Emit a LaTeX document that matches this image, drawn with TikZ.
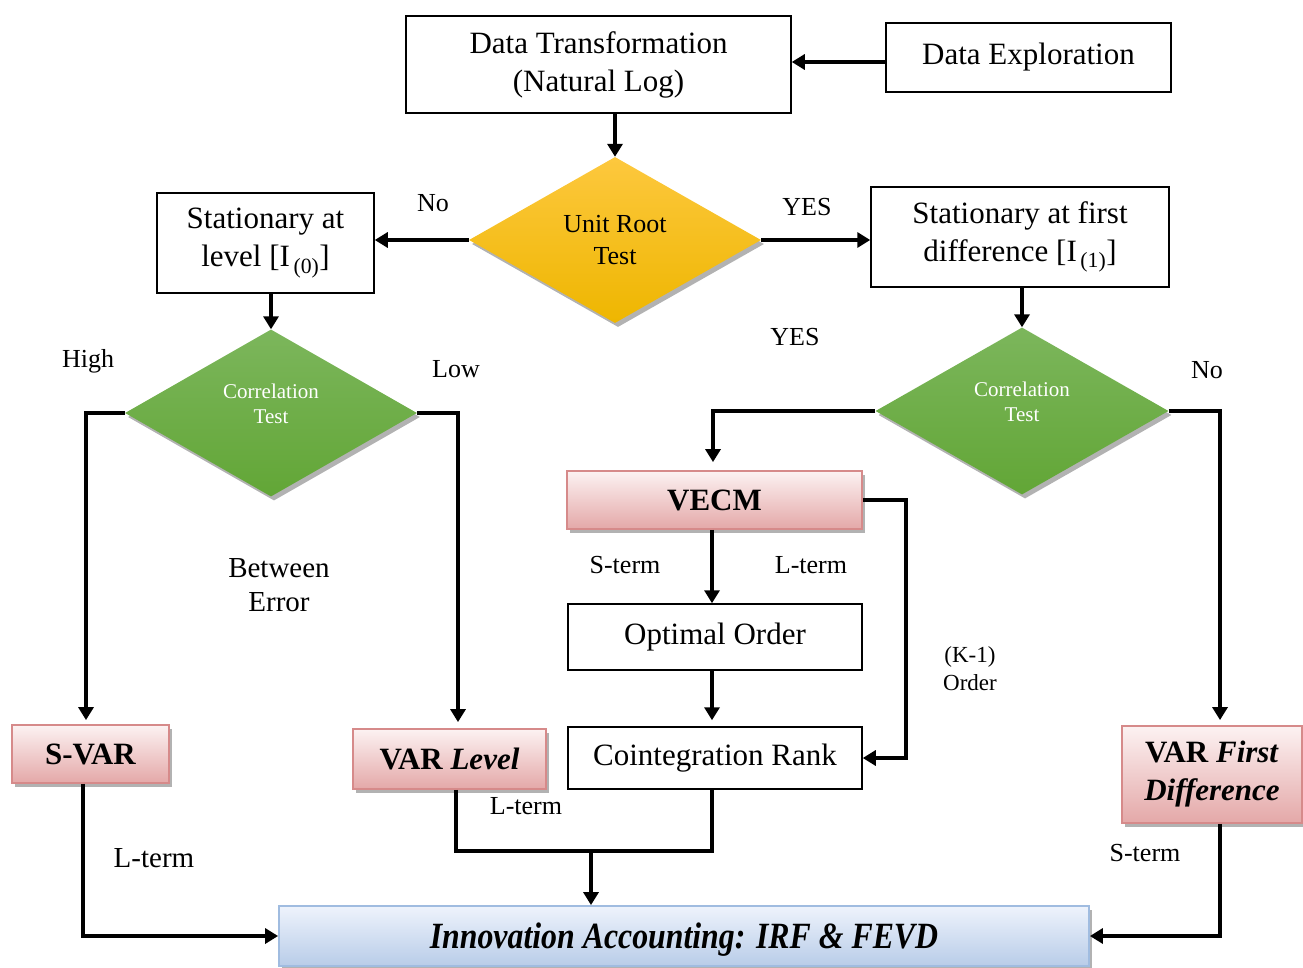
\documentclass[tikz,border=0pt]{standalone}
\usepackage{fontspec}
\setmainfont{Liberation Serif}
\usetikzlibrary{shapes.geometric,arrows.meta,shadows,calc}

\definecolor{urTop}{RGB}{253,200,62}
\definecolor{urBot}{RGB}{238,182,0}
\definecolor{grTop}{RGB}{124,182,92}
\definecolor{grBot}{RGB}{98,166,54}
\definecolor{pkTop}{RGB}{252,242,242}
\definecolor{pkBot}{RGB}{228,168,168}
\definecolor{pkLine}{RGB}{214,138,138}
\definecolor{blTop}{RGB}{238,243,252}
\definecolor{blBot}{RGB}{184,204,232}
\definecolor{blLine}{RGB}{160,188,224}

\newcommand{\bigtxt}{\fontsize{31}{38}\selectfont}
\newcommand{\lbltxt}{\fontsize{26}{31}\selectfont}
\newcommand{\midtxt}{\fontsize{29}{34}\selectfont}

\tikzset{
  box/.style={draw, line width=1.5pt, fill=white, inner sep=0pt, align=center, font=\bigtxt},
  softshadow/.style={drop shadow={shadow xshift=3pt, shadow yshift=-4pt, opacity=0.3, fill=black}},
  decision/.style={diamond, inner sep=0pt, aspect=1.76, align=center, softshadow},
  yellowdec/.style={decision, top color=urTop, bottom color=urBot, font=\fontsize{26}{32}\selectfont},
  greendec/.style={decision, top color=grTop, bottom color=grBot, text=white, font=\fontsize{21}{25}\selectfont},
  pinkbox/.style={draw=pkLine, line width=1.8pt, top color=pkTop, bottom color=pkBot, inner sep=0pt, align=center, softshadow, font=\bigtxt\bfseries},
  bluebox/.style={draw=blLine, line width=1.8pt, top color=blTop, bottom color=blBot, inner sep=0pt, align=center, softshadow},
  ln/.style={line width=3.4pt},
  arr/.style={line width=3.4pt, -{Triangle[length=13pt,width=15pt]}},
  lbl/.style={inner sep=0pt, font=\lbltxt, align=center},
}

\begin{document}
\begin{tikzpicture}[x=1pt,y=-1pt]
\useasboundingbox (0,0) rectangle (1303,968);

% process boxes
\node[box, minimum width=385, minimum height=97] (dt) at (598.5,64.5) {Data Transformation\\(Natural Log)};
\node[box, minimum width=285, minimum height=69] (de) at (1028.5,57.5) {Data Exploration};
\node[box, minimum width=217, minimum height=100] (sl) at (265.5,243) {Stationary at\\level [I\textsubscript{\,(0)}]};
\node[box, minimum width=298, minimum height=100] (sf) at (1020,237) {Stationary at first\\difference [I\textsubscript{\,(1)}]};
\node[box, minimum width=294, minimum height=66] (oo) at (715,637) {Optimal Order};
\node[box, minimum width=294, minimum height=62] (ci) at (715,758) {Cointegration Rank};

% decisions
\node[yellowdec, minimum width=292, minimum height=166] (ur) at (615,240) {Unit Root\\Test};
\node[greendec, minimum width=292, minimum height=167] (cl) at (271,413) {\raisebox{7pt}[\height][\depth]{\begin{tabular}{@{}c@{}}Correlation\\Test\end{tabular}}};
\node[greendec, minimum width=293, minimum height=167] (cr) at (1022,411) {\raisebox{7pt}[\height][\depth]{\begin{tabular}{@{}c@{}}Correlation\\Test\end{tabular}}};

% model boxes
\node[pinkbox, minimum width=157, minimum height=58] (svar) at (90.5,754) {S-VAR};
\node[pinkbox, minimum width=193, minimum height=60] (varl) at (449.5,759) {VAR \textit{Level}};
\node[pinkbox, minimum width=295, minimum height=58] (vecm) at (714.5,500) {VECM};
\node[pinkbox, minimum width=180, minimum height=97] (vfd) at (1212,774.5) {VAR \textit{First}\\\textit{Difference}};
\node[bluebox, minimum width=810, minimum height=60] (ia) at (684,936)
  {\fontsize{37}{40}\selectfont\raisebox{-4pt}[\height][\depth]{\scalebox{0.86}[1]{\bfseries\itshape Innovation Accounting: IRF \& FEVD}}};

% connectors
\draw[arr] (de.west |- 0,62) -- (dt.east |- 0,62);
\draw[arr] (ur.north |- dt.south) -- (ur.north);
\draw[arr] (ur.west) -- (ur.west -| sl.east);
\draw[arr] (ur.east) -- (ur.east -| sf.west);
\draw[arr] (cl.north |- sl.south) -- (cl.north);
\draw[arr] (cr.north |- sf.south) -- (cr.north);

\draw[arr, shorten >=4pt] (cl.west) -| ([xshift=-4.5]svar.north);
\draw[arr, shorten >=6pt] (cl.east) -| ([xshift=8.5]varl.north);
\draw[arr, shorten >=8pt] (cr.west) -| ([xshift=-1.5]vecm.north);
\draw[arr, shorten >=5pt] (cr.east) -| ([xshift=8]vfd.north);

\draw[arr] ([xshift=-3]vecm.south -| oo.north) -- ([xshift=-3]oo.north);
\draw[arr, shorten >=6pt] ([xshift=-3]oo.south) -- ([xshift=-3]ci.north);
\draw[arr] (vecm.east) -- ++(43,0) |- (ci.east);

\draw[arr] ([xshift=-7.5]svar.south) |- (ia.west);
\draw[arr] ([xshift=8]vfd.south) |- (ia.east);
\coordinate (jn) at (591,851);
\coordinate (cib) at ([xshift=-3]ci.south);
\draw[ln] ([xshift=6.5]varl.south) |- (jn) -- (jn -| cib) -- (cib);
\draw[arr] (jn) -- (jn |- ia.north);

% branch labels
\node[lbl] (lno1) at (433,203) {No};
\node[lbl] (lyes1) at (807,207) {YES};
\node[lbl] (lyes2) at (795,337) {YES};
\node[lbl] (lno2) at (1207,370) {No};
\node[lbl] (lhigh) at (88,361) {High};
\node[lbl] (llow) at (456,369) {Low};
\node[lbl, font=\midtxt] (lbe) at (279,585) {Between\\Error};
\node[lbl] (lst1) at (625,565) {S-term};
\node[lbl] (llt1) at (811,565) {L-term};
\node[lbl, font=\fontsize{23}{28}\selectfont] (lko) at (970,669) {(K-1)\\Order};
\node[lbl] (llt2) at (526,806) {L-term};
\node[lbl, font=\midtxt] (llt3) at (154,858) {L-term};
\node[lbl] (lst2) at (1145,853) {S-term};
\end{tikzpicture}
\end{document}
